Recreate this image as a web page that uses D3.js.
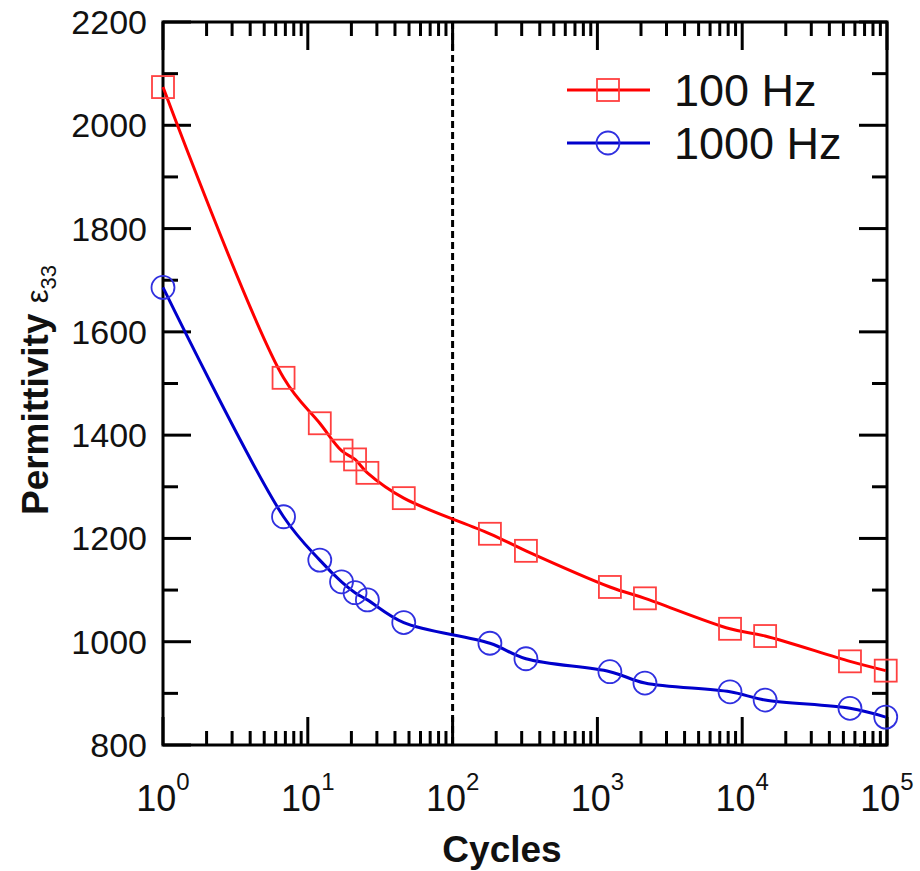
<!DOCTYPE html>
<html>
<head>
<meta charset="utf-8">
<script src="https://cdn.jsdelivr.net/npm/d3@7"></script>
<style>
  html, body { margin: 0; padding: 0; background: #fff; }
  svg { display: block; font-family: Arial, "Liberation Sans", sans-serif; }
</style>
</head>
<body>
<div id="chart"></div>
<script>
// --- data ---
const cycles = [1, 6.8, 12.1, 17.1, 21.2, 25.8, 46, 181, 321, 1220, 2130, 8240, 14400, 55500, 98000];
const eps100 = [2074, 1511, 1423, 1370, 1353, 1327, 1278, 1209, 1176, 1106, 1084, 1025, 1011, 962, 944];
const eps1000 = [1686, 1242, 1158, 1116, 1095, 1081, 1037, 997, 967, 942, 920, 903, 887, 871, 854];
const seriesNames = ['100 Hz', '1000 Hz'];
const yTicks = [800, 1000, 1200, 1400, 1600, 1800, 2000, 2200];
const xDecades = [0, 1, 2, 3, 4, 5];
const markLine = 100;

const width = 920, height = 871;
const plotLeft = 163, plotRight = 887, plotTop = 22, plotBottom = 745;

const svg = d3.select('#chart').append('svg')
    .attr('width', width)
    .attr('height', height);

const x = d3.scaleLog().domain([1, 1e5]).range([plotLeft, plotRight]);
const y = d3.scaleLinear().domain([800, 2200]).range([plotBottom, plotTop]);

// minor ticks
const xMinor = [];
for (let d = 0; d < 5; d++) {
    for (let k = 2; k <= 9; k++) xMinor.push(k * Math.pow(10, d));
}
const yMinor = d3.range(900, 2200, 200);

const axes = svg.append('g').attr('stroke', '#000').attr('stroke-width', 3);

// bottom & top ticks (inward)
xDecades.forEach(d => {
    const px = x(Math.pow(10, d));
    axes.append('line').attr('x1', px).attr('x2', px).attr('y1', plotBottom).attr('y2', plotBottom - 28);
    axes.append('line').attr('x1', px).attr('x2', px).attr('y1', plotTop).attr('y2', plotTop + 28);
});
xMinor.forEach(v => {
    const px = x(v);
    axes.append('line').attr('x1', px).attr('x2', px).attr('y1', plotBottom).attr('y2', plotBottom - 14);
    axes.append('line').attr('x1', px).attr('x2', px).attr('y1', plotTop).attr('y2', plotTop + 14);
});

// left & right ticks
yTicks.forEach(v => {
    const py = y(v);
    axes.append('line').attr('x1', plotLeft).attr('x2', plotLeft + 28).attr('y1', py).attr('y2', py);
    axes.append('line').attr('x1', plotRight).attr('x2', plotRight - 28).attr('y1', py).attr('y2', py);
});
yMinor.forEach(v => {
    const py = y(v);
    axes.append('line').attr('x1', plotLeft).attr('x2', plotLeft + 15).attr('y1', py).attr('y2', py);
    axes.append('line').attr('x1', plotRight).attr('x2', plotRight - 15).attr('y1', py).attr('y2', py);
});

// frame
axes.append('rect')
    .attr('x', plotLeft).attr('y', plotTop)
    .attr('width', plotRight - plotLeft).attr('height', plotBottom - plotTop)
    .attr('fill', 'none');

// dashed marker at 10^2
svg.append('line')
    .attr('x1', x(markLine)).attr('x2', x(markLine))
    .attr('y1', plotTop).attr('y2', plotBottom)
    .attr('stroke', '#000')
    .attr('stroke-width', 3)
    .attr('stroke-dasharray', '7,4');

// y tick labels
svg.append('g').selectAll('text')
    .data(yTicks)
    .join('text')
    .attr('x', 147)
    .attr('y', d => y(d) + 12)
    .attr('text-anchor', 'end')
    .attr('font-size', '34px')
    .attr('fill', '#111')
    .text(d => d);

// x tick labels 10^n
const xl = svg.append('g').selectAll('text')
    .data(xDecades)
    .join('text')
    .attr('x', d => x(Math.pow(10, d)))
    .attr('y', 811)
    .attr('text-anchor', 'middle')
    .attr('fill', '#111');
xl.append('tspan').attr('font-size', '36px').text('10');
xl.append('tspan').attr('font-size', '24px').attr('dy', -21).text(d => d);

// axis titles
svg.append('text')
    .attr('x', 502).attr('y', 862)
    .attr('text-anchor', 'middle')
    .attr('font-size', '37px')
    .attr('font-weight', 'bold')
    .attr('fill', '#111')
    .text('Cycles');

const yt = svg.append('text')
    .attr('transform', 'translate(48,390) rotate(-90)')
    .attr('text-anchor', 'middle')
    .attr('fill', '#111');
yt.append('tspan').attr('font-size', '37px').attr('font-weight', 'bold').text('Permittivity ');
yt.append('tspan').attr('font-size', '31px').text('ε');
yt.append('tspan').attr('font-size', '22px').attr('dy', 8).text('33');

// series
const series = [
    { name: seriesNames[0], values: eps100, line: '#ff0000', mark: '#ff4040', shape: 'square' },
    { name: seriesNames[1], values: eps1000, line: '#0000cc', mark: '#3030e0', shape: 'circle' }
];

const lineGen = d3.line()
    .x(d => x(d[0]))
    .y(d => y(d[1]))
    .curve(d3.curveCatmullRom.alpha(0.5));

function drawMarker(g, s, px, py) {
    if (s.shape === 'square') {
        g.append('rect')
            .attr('x', px - 11).attr('y', py - 11)
            .attr('width', 22).attr('height', 22)
            .attr('fill', 'none')
            .attr('stroke', s.mark)
            .attr('stroke-width', 1.8);
    } else {
        g.append('circle')
            .attr('cx', px).attr('cy', py).attr('r', 11.5)
            .attr('fill', 'none')
            .attr('stroke', s.mark)
            .attr('stroke-width', 1.8);
    }
}

series.forEach(s => {
    const pts = cycles.map((c, i) => [c, s.values[i]]);
    svg.append('path')
        .attr('d', lineGen(pts))
        .attr('fill', 'none')
        .attr('stroke', s.line)
        .attr('stroke-width', 3);
    const g = svg.append('g');
    pts.forEach(p => drawMarker(g, s, x(p[0]), y(p[1])));
});

// legend
const legendY = [90, 143];
series.forEach((s, i) => {
    const ly = legendY[i];
    svg.append('line')
        .attr('x1', 567).attr('x2', 650)
        .attr('y1', ly).attr('y2', ly)
        .attr('stroke', s.line)
        .attr('stroke-width', 3);
    drawMarker(svg, s, 608, ly);
    svg.append('text')
        .attr('x', 674).attr('y', ly + 16)
        .attr('font-size', '45px')
        .attr('fill', '#111')
        .text(s.name);
});
</script>
</body>
</html>
